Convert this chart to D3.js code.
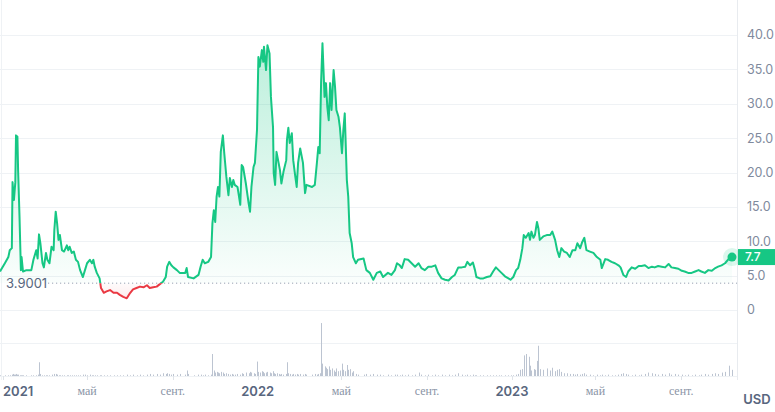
<!DOCTYPE html>
<html>
<head>
<meta charset="utf-8">
<script src="https://cdn.jsdelivr.net/npm/d3@7"></script>
<style>
  html, body { margin: 0; padding: 0; background: #fff; }
  svg { display: block; font-family: Inter, "Noto Sans", sans-serif; }
</style>
</head>
<body>
<div id="chart"></div>
<script>
const WIDTH = 775;
const HEIGHT = 412;
const PLOT_RIGHT = 737;

const BASELINE = 3.9001;

const dates = [
  "2020-12-27","2021-01-03","2021-01-08","2021-01-10","2021-01-13","2021-01-14","2021-01-16","2021-01-18","2021-01-19","2021-01-21",
  "2021-01-22","2021-01-24","2021-01-26","2021-01-27","2021-01-29","2021-02-03","2021-02-10","2021-02-13","2021-02-17","2021-02-19",
  "2021-02-21","2021-02-23","2021-02-26","2021-02-28","2021-03-03","2021-03-05","2021-03-08","2021-03-11","2021-03-14","2021-03-15",
  "2021-03-17","2021-03-19","2021-03-21","2021-03-23","2021-03-26","2021-03-29","2021-04-02","2021-04-04","2021-04-06","2021-04-09",
  "2021-04-12","2021-04-15","2021-04-18","2021-04-21","2021-04-25","2021-04-28","2021-05-01","2021-05-05","2021-05-08","2021-05-10",
  "2021-05-12","2021-05-15","2021-05-19","2021-05-21","2021-05-25","2021-05-29","2021-06-03","2021-06-08","2021-06-13","2021-06-17",
  "2021-06-22","2021-06-27","2021-07-02","2021-07-06","2021-07-11","2021-07-16","2021-07-21","2021-07-26","2021-07-30","2021-08-04",
  "2021-08-09","2021-08-14","2021-08-18","2021-08-22","2021-08-24","2021-08-27","2021-08-30","2021-09-02","2021-09-07","2021-09-11",
  "2021-09-19","2021-09-21","2021-09-23","2021-10-01","2021-10-08","2021-10-11","2021-10-14","2021-10-17","2021-10-22","2021-10-26",
  "2021-10-28","2021-10-30","2021-11-01","2021-11-03","2021-11-05","2021-11-07","2021-11-09","2021-11-12","2021-11-14","2021-11-17",
  "2021-11-20","2021-11-22","2021-11-25","2021-11-27","2021-11-29","2021-12-03","2021-12-07","2021-12-09","2021-12-11","2021-12-15",
  "2021-12-19","2021-12-21","2021-12-23","2021-12-26","2021-12-28","2021-12-31","2022-01-02","2022-01-04","2022-01-07","2022-01-09",
  "2022-01-10","2022-01-13","2022-01-15","2022-01-18","2022-01-20","2022-01-23","2022-01-24","2022-01-26","2022-01-28","2022-01-31",
  "2022-02-02","2022-02-04","2022-02-07","2022-02-11","2022-02-12","2022-02-14","2022-02-16","2022-02-19","2022-02-21","2022-02-24",
  "2022-02-26","2022-02-28","2022-03-03","2022-03-07","2022-03-10","2022-03-12","2022-03-20","2022-03-24","2022-03-27","2022-03-29",
  "2022-03-31","2022-04-02","2022-04-04","2022-04-07","2022-04-09","2022-04-11","2022-04-13","2022-04-15","2022-04-17","2022-04-20",
  "2022-04-22","2022-04-24","2022-04-27","2022-04-29","2022-05-02","2022-05-04","2022-05-06","2022-05-09","2022-05-11","2022-05-13",
  "2022-05-16","2022-05-18","2022-05-22","2022-05-25","2022-06-02","2022-06-06","2022-06-11","2022-06-16","2022-06-21","2022-06-26",
  "2022-06-30","2022-07-07","2022-07-12","2022-07-17","2022-07-20","2022-07-24","2022-07-27","2022-07-31","2022-08-05","2022-08-10",
  "2022-08-15","2022-08-20","2022-08-24","2022-08-29","2022-09-03","2022-09-08","2022-09-13","2022-09-17","2022-09-22","2022-09-27",
  "2022-10-02","2022-10-07","2022-10-11","2022-10-16","2022-10-21","2022-10-26","2022-10-29","2022-11-02","2022-11-06","2022-11-09",
  "2022-11-11","2022-11-16","2022-11-21","2022-11-26","2022-12-01","2022-12-05","2022-12-09","2022-12-13","2022-12-17","2022-12-22",
  "2022-12-27","2022-12-30","2023-01-03","2023-01-07","2023-01-10","2023-01-13","2023-01-16","2023-01-18","2023-01-21","2023-01-25",
  "2023-01-27","2023-01-29","2023-02-01","2023-02-03","2023-02-06","2023-02-08","2023-02-10","2023-02-15","2023-02-20","2023-02-25",
  "2023-02-28","2023-03-04","2023-03-07","2023-03-10","2023-03-13","2023-03-17","2023-03-21","2023-03-25","2023-03-29","2023-04-02",
  "2023-04-05","2023-04-09","2023-04-12","2023-04-15","2023-04-18","2023-04-23","2023-04-28","2023-05-03","2023-05-08","2023-05-10",
  "2023-05-15","2023-05-19","2023-05-24","2023-05-29","2023-06-03","2023-06-06","2023-06-10","2023-06-14","2023-06-17","2023-06-22",
  "2023-06-27","2023-07-02","2023-07-06","2023-07-11","2023-07-16","2023-07-21","2023-07-25","2023-07-30","2023-08-04","2023-08-09",
  "2023-08-14","2023-08-18","2023-08-23","2023-08-28","2023-09-02","2023-09-06","2023-09-11","2023-09-16","2023-09-21","2023-09-26",
  "2023-09-30","2023-10-05","2023-10-10","2023-10-15","2023-10-20","2023-10-24","2023-10-29","2023-11-03","2023-11-08","2023-11-13"
];

const prices = [
  5.6,6.8,7.7,8.7,9.0,18.6,16.0,18.6,25.4,25.2,
  20.3,13.6,5.8,7.7,5.6,5.8,5.8,7.3,8.7,7.5,
  11.0,9.7,6.8,6.2,8.3,7.3,6.8,9.2,8.7,11.6,
  14.3,12.6,10.2,10.9,8.7,8.5,9.4,8.7,9.2,8.3,
  8.5,7.3,7.0,5.8,4.8,5.8,6.8,7.3,6.8,7.3,
  6.3,5.4,4.6,3.2,2.5,2.7,2.9,2.5,2.5,2.2,
  1.9,1.7,2.5,3.0,3.2,3.4,3.3,3.6,3.2,3.3,
  3.4,3.8,4.1,4.8,6.3,7.0,6.5,6.2,5.8,5.4,
  5.4,6.1,4.8,4.6,5.1,6.3,7.3,6.8,7.0,7.7,
  12.6,14.5,12.8,16.5,17.9,16.5,23.0,25.4,22.8,19.4,
  16.7,19.2,17.9,18.9,18.2,17.9,15.3,21.1,20.8,18.4,
  15.5,14.3,17.9,20.8,21.4,26.2,36.8,35.4,37.8,36.1,
  38.3,34.9,38.5,37.3,31.0,26.6,19.9,18.2,23.0,21.4,
  20.3,18.4,20.1,21.8,24.7,26.5,24.3,25.7,21.8,19.4,
  17.9,21.4,23.5,21.4,17.0,18.2,17.9,18.2,21.4,23.7,
  22.8,33.0,38.8,31.0,33.0,29.5,27.6,33.0,29.1,34.9,
  32.5,29.1,28.1,26.6,22.8,26.2,28.6,18.9,16.5,11.2,
  9.7,7.7,6.8,7.3,7.5,5.8,5.4,4.4,5.4,5.6,
  4.8,5.4,5.1,5.8,6.8,6.5,6.1,7.4,7.3,6.8,
  6.3,6.8,6.1,5.8,6.3,6.3,6.5,5.4,4.6,4.4,
  4.3,4.8,5.1,6.2,6.2,6.3,7.0,6.5,6.9,5.8,
  4.8,4.6,4.6,4.8,4.9,5.6,6.2,5.8,5.4,4.9,
  4.6,4.4,4.8,5.8,6.1,7.3,9.0,10.9,10.5,11.2,
  10.2,11.4,10.5,10.9,12.8,11.9,10.2,10.7,10.9,10.9,
  11.4,10.2,8.7,7.7,9.0,8.5,8.3,7.7,8.7,8.7,
  9.7,9.0,9.9,10.5,8.7,8.5,8.3,7.7,7.3,6.1,
  7.4,7.3,7.0,6.8,6.5,6.2,5.1,4.8,5.6,6.2,
  6.0,6.4,6.4,6.5,6.1,6.3,6.2,6.4,6.3,6.2,
  6.7,6.2,6.1,6.0,5.7,5.6,5.4,5.4,5.6,5.8,
  5.6,5.4,5.8,5.7,6.1,6.3,6.5,6.8,7.4,7.7
];

const volumes = [
  1,1,1,1,2,3,2,2,3,2,
  2,1,1,1,1,1,1,1,1,2,
  20,3,1,1,1,1,1,2,3,2,
  3,2,1,1,1,1,1,1,1,1,
  1,1,1,1,2,2,1,2,1,1,
  1,1,1,1,1,1,1,1,1,1,
  1,2,1,2,1,2,1,2,3,2,
  3,2,4,3,4,3,2,3,2,3,
  2,8,3,1,2,2,1,2,1,2,
  32,8,5,6,5,4,6,5,3,4,
  3,2,3,2,2,3,2,4,3,5,
  4,6,5,4,3,21,6,5,7,6,
  4,5,6,5,4,7,4,3,4,3,
  2,3,2,3,20,4,3,2,3,2,
  3,2,3,2,3,2,2,3,2,3,
  4,77,18,14,12,10,14,9,11,8,
  6,11,7,8,18,9,7,16,9,10,
  5,7,3,2,2,3,2,3,2,2,
  1,2,1,2,2,1,2,1,2,1,
  2,5,2,1,2,1,2,1,2,1,
  2,1,2,4,2,1,2,1,2,1,
  1,1,1,1,1,1,1,1,1,1,
  1,1,1,2,3,9,10,30,32,28,
  15,8,10,9,22,44,10,9,11,8,
  12,7,9,10,6,4,4,3,3,2,
  3,2,3,4,2,2,1,2,1,2,
  1,2,1,1,2,3,4,3,2,1,
  2,1,2,3,5,4,3,2,3,2,
  4,2,3,2,2,1,2,1,2,1,
  2,3,2,3,4,3,5,6,15,9
];

const priceTicks = [0, 5, 10, 15, 20, 25, 30, 35, 40];
const volumeTicks = [0, 48, 96];
const xTickDates = ["2021-01-01","2021-05-01","2021-09-01","2022-01-01","2022-05-01","2022-09-01","2023-01-01","2023-05-01","2023-09-01"];
const xTickLabels = ["2021","май","сент.","2022","май","сент.","2023","май","сент."];

const GREEN = "#16c784";
const RED = "#ea3943";
const GRID = "#eff2f5";

const parse = d3.timeParse("%Y-%m-%d");
const data = dates.map((d, i) => ({date: parse(d), price: prices[i], volume: volumes[i]}));

const x = d3.scaleTime()
  .domain(d3.extent(data, d => d.date))
  .range([0, 732]);

const y = d3.scaleLinear()
  .domain([0, 40])
  .range([310, 35]);

const yVol = d3.scaleLinear()
  .domain([0, 96])
  .range([376, 310]);

const svg = d3.select("#chart")
  .append("svg")
    .attr("width", WIDTH)
    .attr("height", HEIGHT);

const defs = svg.append("defs");

const yBase = y(BASELINE);

defs.append("clipPath").attr("id", "above")
  .append("rect").attr("x", -5).attr("y", 0).attr("width", PLOT_RIGHT + 10).attr("height", yBase);
defs.append("clipPath").attr("id", "below")
  .append("rect").attr("x", -5).attr("y", yBase).attr("width", PLOT_RIGHT + 10).attr("height", HEIGHT - yBase);

const gUp = defs.append("linearGradient").attr("id", "gUp")
  .attr("gradientUnits", "userSpaceOnUse")
  .attr("x1", 0).attr("x2", 0).attr("y1", y(40)).attr("y2", yBase);
gUp.append("stop").attr("offset", 0).attr("stop-color", GREEN).attr("stop-opacity", 0.3);
gUp.append("stop").attr("offset", 1).attr("stop-color", GREEN).attr("stop-opacity", 0.02);

const gDown = defs.append("linearGradient").attr("id", "gDown")
  .attr("gradientUnits", "userSpaceOnUse")
  .attr("x1", 0).attr("x2", 0).attr("y1", yBase).attr("y2", y(0));
gDown.append("stop").attr("offset", 0).attr("stop-color", RED).attr("stop-opacity", 0.02);
gDown.append("stop").attr("offset", 1).attr("stop-color", RED).attr("stop-opacity", 0.15);

// grid lines
svg.append("g")
  .selectAll("line")
  .data(priceTicks)
  .join("line")
    .attr("x1", 0).attr("x2", PLOT_RIGHT)
    .attr("y1", d => Math.round(y(d)) + 0.5)
    .attr("y2", d => Math.round(y(d)) + 0.5)
    .attr("stroke", GRID);

svg.append("g")
  .selectAll("line")
  .data(volumeTicks)
  .join("line")
    .attr("x1", 0).attr("x2", PLOT_RIGHT)
    .attr("y1", d => Math.round(yVol(d)) + 0.5)
    .attr("y2", d => Math.round(yVol(d)) + 0.5)
    .attr("stroke", GRID);

// frame
svg.append("line")
  .attr("x1", PLOT_RIGHT + 0.5).attr("x2", PLOT_RIGHT + 0.5)
  .attr("y1", 0).attr("y2", 380)
  .attr("stroke", "#e8ebef");
svg.append("line")
  .attr("x1", 1.5).attr("x2", 1.5)
  .attr("y1", 0).attr("y2", 380)
  .attr("stroke", GRID);

// volume bars
svg.append("g")
  .selectAll("rect")
  .data(data)
  .join("rect")
    .attr("x", d => Math.round(x(d.date)))
    .attr("y", d => yVol(d.volume))
    .attr("width", 1)
    .attr("height", d => yVol(0) - yVol(d.volume))
    .attr("fill", "#bcc4d1");

// area fills
const area = d3.area()
  .x(d => x(d.date))
  .y0(yBase)
  .y1(d => y(d.price));

svg.append("path")
  .datum(data)
  .attr("clip-path", "url(#above)")
  .attr("fill", "url(#gUp)")
  .attr("d", area);

svg.append("path")
  .datum(data)
  .attr("clip-path", "url(#below)")
  .attr("fill", "url(#gDown)")
  .attr("d", area);

// baseline
svg.append("line")
  .attr("x1", 48).attr("x2", PLOT_RIGHT)
  .attr("y1", yBase).attr("y2", yBase)
  .attr("stroke", "#98a2b3")
  .attr("stroke-width", 1)
  .attr("stroke-dasharray", "1.2,2.8");

svg.append("text")
  .attr("x", 6)
  .attr("y", yBase)
  .attr("dy", "0.35em")
  .attr("font-size", 13)
  .attr("fill", "#58667e")
  .text(BASELINE);

// price line
const line = d3.line()
  .x(d => x(d.date))
  .y(d => y(d.price));

svg.append("path")
  .datum(data)
  .attr("clip-path", "url(#above)")
  .attr("fill", "none")
  .attr("stroke", GREEN)
  .attr("stroke-width", 2)
  .attr("stroke-linejoin", "round")
  .attr("d", line);

svg.append("path")
  .datum(data)
  .attr("clip-path", "url(#below)")
  .attr("fill", "none")
  .attr("stroke", RED)
  .attr("stroke-width", 2)
  .attr("stroke-linejoin", "round")
  .attr("d", line);

// last point
const last = data[data.length - 1];
svg.append("circle")
  .attr("cx", x(last.date)).attr("cy", y(last.price))
  .attr("r", 9)
  .attr("fill", GREEN).attr("fill-opacity", 0.15);
svg.append("circle")
  .attr("cx", x(last.date)).attr("cy", y(last.price))
  .attr("r", 4.5)
  .attr("fill", GREEN);

// y axis labels
svg.append("g")
  .selectAll("text")
  .data(priceTicks)
  .join("text")
    .attr("x", 747)
    .attr("y", d => y(d))
    .attr("dy", "0.35em")
    .attr("font-size", 12.5)
    .attr("fill", "#808a9d")
    .text(d => d === 0 ? "0" : d.toFixed(1));

// current price badge
svg.append("rect")
  .attr("x", PLOT_RIGHT + 1)
  .attr("y", y(last.price) - 8)
  .attr("width", 37)
  .attr("height", 16)
  .attr("fill", GREEN);
svg.append("text")
  .attr("x", 745)
  .attr("y", y(last.price))
  .attr("dy", "0.35em")
  .attr("font-size", 12)
  .attr("font-weight", 500)
  .attr("fill", "#fff")
  .text(last.price.toFixed(1));

// x ticks and labels
const xTicks = xTickDates.map((d, i) => ({date: parse(d), label: xTickLabels[i]}));

svg.append("g")
  .selectAll("line")
  .data(xTicks)
  .join("line")
    .attr("x1", d => Math.round(x(d.date)) + 0.5)
    .attr("x2", d => Math.round(x(d.date)) + 0.5)
    .attr("y1", 376).attr("y2", 380)
    .attr("stroke", "#dfe3e8");

svg.append("g")
  .selectAll("text")
  .data(xTicks)
  .join("text")
    .attr("x", d => x(d.date) < 20 ? 3 : x(d.date))
    .attr("y", 391)
    .attr("dy", "0.35em")
    .attr("text-anchor", d => x(d.date) < 20 ? "start" : "middle")
    .attr("font-family", d => /\d/.test(d.label) ? "Inter, sans-serif" : "'Liberation Serif', serif")
    .attr("font-size", d => /\d/.test(d.label) ? 13 : 12)
    .attr("font-weight", d => /\d/.test(d.label) ? 600 : 400)
    .attr("fill", d => /\d/.test(d.label) ? "#58667e" : "#8a94a6")
    .text(d => d.label);

svg.append("text")
  .attr("x", 757)
  .attr("y", 399)
  .attr("dy", "0.35em")
  .attr("text-anchor", "middle")
  .attr("font-size", 13)
  .attr("font-weight", 600)
  .attr("fill", "#58667e")
  .text("USD");
</script>
</body>
</html>
